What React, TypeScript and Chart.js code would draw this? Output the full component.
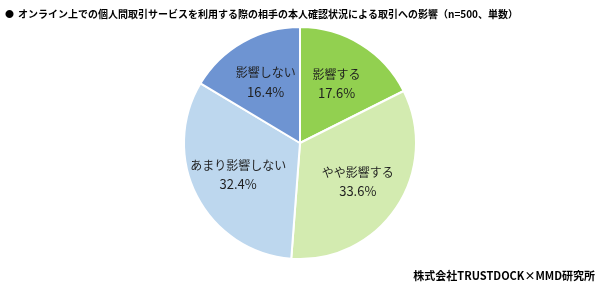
import React, { useEffect, useRef } from "react";
import { Chart, registerables } from "chart.js";

Chart.register(...registerables);

const categories = ["影響する", "やや影響する", "あまり影響しない", "影響しない"];
const values = [17.6, 33.6, 32.4, 16.4];
const valueLabels = ["17.6%", "33.6%", "32.4%", "16.4%"];
const colors = ["#92D050", "#D3EBB0", "#BDD7EE", "#6E94D2"];
const titleText = "オンライン上での個人間取引サービスを利用する際の相手の本人確認状況による取引への影響（n=500、単数）";
const sourceText = "株式会社TRUSTDOCK×MMD研究所";

const FONT = '"Noto Sans CJK JP", "Noto Sans", sans-serif';

const textPlugin = {
  id: "textPlugin",
  afterDraw(chart: any) {
    const ctx = chart.ctx;
    const meta = chart.getDatasetMeta(0);
    ctx.save();
    ctx.fillStyle = "#1f1f1f";
    ctx.textAlign = "center";
    ctx.textBaseline = "middle";
    meta.data.forEach((arc: any, i: number) => {
      const p = arc.getProps(["x", "y", "startAngle", "endAngle", "outerRadius"], true);
      const mid = (p.startAngle + p.endAngle) / 2;
      const r = p.outerRadius * 0.6;
      const cx = p.x + Math.cos(mid) * r;
      const cy = p.y + Math.sin(mid) * r;
      ctx.font = `12px ${FONT}`;
      ctx.fillText(categories[i], cx, cy - 9.5);
      ctx.font = `13px ${FONT}`;
      ctx.fillText(valueLabels[i], cx, cy + 9.5);
    });
    ctx.fillStyle = "#000000";
    ctx.textAlign = "left";
    ctx.font = `bold 9px ${FONT}`;
    ctx.fillText("●", 5, 14);
    ctx.font = `bold 10px ${FONT}`;
    ctx.fillText(titleText, 18, 14);
    ctx.textAlign = "right";
    ctx.font = `bold 11px ${FONT}`;
    ctx.fillText(sourceText, 595, 276);
    ctx.restore();
  },
};

export default function App() {
  const ref = useRef<HTMLCanvasElement>(null);
  useEffect(() => {
    document.body.style.margin = "0";
    const chart = new Chart(ref.current!, {
      type: "pie",
      data: {
        labels: categories,
        datasets: [
          {
            data: values,
            backgroundColor: colors,
            borderColor: "#FFFFFF",
            borderWidth: 2,
          },
        ],
      },
      options: {
        animation: false,
        responsive: false,
        layout: { padding: { top: 26, bottom: 27, left: 0, right: 0 } },
        plugins: {
          legend: { display: false },
          tooltip: { enabled: false },
        },
      },
      plugins: [textPlugin],
    });
    return () => chart.destroy();
  }, []);
  return (
    <div style={{ width: 600, height: 287, background: "#fff" }}>
      <canvas ref={ref} width={600} height={287} style={{ width: 600, height: 287, display: "block" }} />
    </div>
  );
}
